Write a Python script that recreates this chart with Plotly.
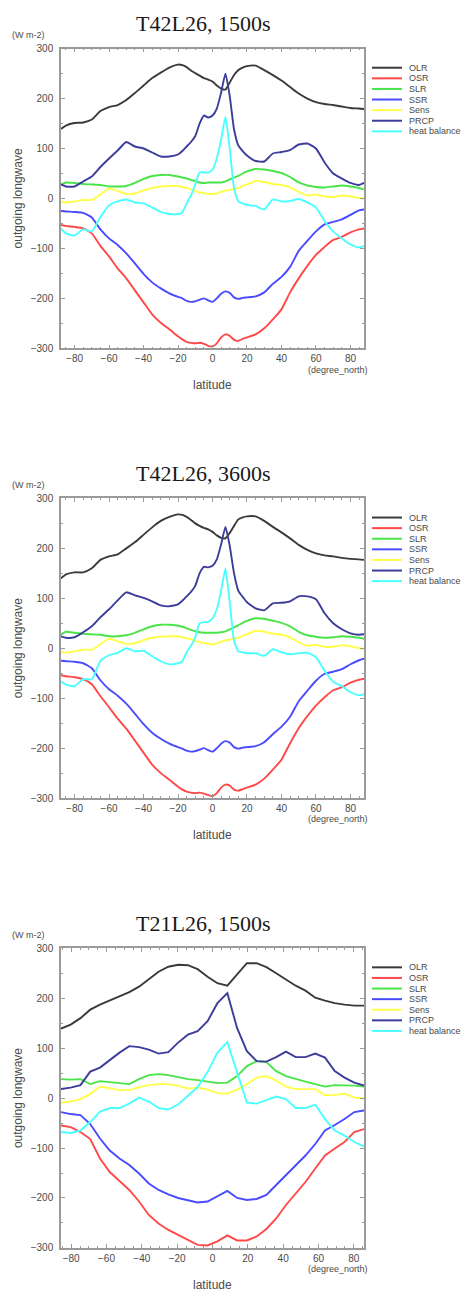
import plotly.graph_objects as go

# ---------------------------------------------------------------- data
SERIES = ["OLR", "OSR", "SLR", "SSR", "Sens", "PRCP", "heat balance"]
TITLES = ["T42L26, 1500s", "T42L26, 3600s", "T21L26, 1500s"]

LAT_T42 = [-87.9, -85, -80, -75, -70, -65, -60, -55, -50, -45, -40, -35, -30, -25,
           -20, -17.5, -15, -12.5, -10, -7.5, -5, -2.5, 0, 2.5, 5, 7.5, 10, 12.5,
           15, 17.5, 20, 25, 30, 35, 40, 45, 50, 55, 60, 65, 70, 75, 80, 85, 87.9]

LAT_T21 = [-85.76, -80.27, -74.74, -69.21, -63.69, -58.16, -52.63, -47.10,
           -41.58, -36.05, -30.52, -24.99, -19.47, -13.94, -8.41, -2.79,
           2.79, 8.41, 13.94, 19.47, 24.99, 30.52, 36.05, 41.58,
           47.10, 52.63, 58.16, 63.69, 69.21, 74.74, 80.27, 85.76]

# T42L26, dt = 1500 s
OLR_A = [139, 146, 151, 152, 158, 175, 183, 187, 197, 211, 226, 241, 252, 262,
         268, 267, 263, 256, 251, 246, 241, 238, 234, 226, 220, 218, 232, 247,
         257, 262, 265, 266, 257, 247, 236, 223, 210, 200, 193, 189, 187, 184, 181, 180, 179]
OSR_A = [-53, -55, -57, -60, -70, -95, -116, -140, -160, -184, -208, -232, -249, -262,
         -276, -282, -287, -289, -290, -289, -291, -295, -296, -290, -278, -272, -275, -283,
         -285, -281, -278, -272, -260, -242, -222, -188, -160, -135, -113, -97, -83, -77, -68, -62, -60]
SLR_A = [28, 32, 31, 29, 28, 27, 24, 24, 25, 31, 39, 45, 47, 47,
         44, 42, 40, 37, 35, 32, 31, 32, 32, 32, 32, 34, 38, 42,
         45, 50, 54, 59, 58, 55, 51, 43, 32, 26, 23, 22, 24, 26, 24, 21, 18]
SSR_A = [-25, -26, -27, -29, -38, -62, -80, -93, -110, -130, -151, -168, -180, -190,
         -197, -200, -205, -207, -206, -203, -200, -204, -207, -200, -191, -186, -189, -198,
         -201, -199, -198, -196, -188, -171, -157, -137, -105, -85, -66, -52, -47, -42, -33, -24, -22]
SENS_A = [-6, -8, -6, -3, -3, 8, 20, 15, 9, 10, 16, 21, 24, 25,
          25, 23, 21, 18, 15, 12, 11, 9, 9, 10, 13, 16, 17, 19,
          21, 25, 28, 35, 33, 29, 27, 22, 13, 6, 8, 4, 3, 6, 4, 1, 0]
PRCP_A = [28, 24, 24, 34, 44, 63, 80, 96, 113, 104, 100, 92, 84, 84,
          88, 95, 104, 113, 125, 150, 166, 162, 166, 180, 212, 250, 205, 138,
          106, 95, 86, 75, 74, 90, 93, 97, 108, 110, 100, 72, 50, 40, 31, 27, 31]
HEAT_A = [-60, -70, -74, -62, -66, -37, -14, -6, -2, -8, -10, -18, -27, -31,
          -31, -28, -10, 6, 28, 52, 52, 52, 58, 80, 118, 163, 100, 20,
          -6, -10, -13, -15, -22, -2, -6, -5, -1, -8, -18, -45, -66, -80, -92, -98, -95]

# T42L26, dt = 3600 s
OLR_B = [140, 148, 152, 152, 160, 177, 184, 188, 200, 212, 227, 242, 255, 263,
         268, 267, 263, 257, 250, 245, 241, 238, 233, 226, 221, 220, 231, 245,
         258, 262, 264, 264, 255, 243, 232, 220, 207, 197, 190, 186, 184, 181, 179, 178, 177]
OSR_B = [-54, -56, -58, -62, -72, -96, -118, -141, -161, -185, -209, -233, -250, -263,
         -277, -283, -287, -289, -290, -289, -291, -294, -296, -290, -279, -273, -275, -283,
         -285, -282, -279, -273, -261, -243, -223, -190, -160, -136, -115, -98, -84, -78, -69, -63, -61]
SLR_B = [27, 33, 31, 29, 28, 27, 24, 24, 26, 31, 38, 44, 47, 47,
         45, 43, 40, 37, 34, 32, 31, 31, 31, 31, 32, 34, 38, 42,
         46, 51, 55, 60, 59, 55, 51, 44, 33, 26, 23, 21, 22, 24, 23, 21, 19]
SSR_B = [-25, -26, -27, -30, -40, -64, -82, -95, -111, -131, -152, -169, -181, -191,
         -198, -201, -205, -207, -206, -203, -200, -204, -207, -200, -191, -186, -189, -198,
         -201, -199, -198, -196, -188, -172, -157, -137, -106, -85, -65, -51, -47, -42, -32, -24, -21]
SENS_B = [-8, -9, -6, -3, -3, 8, 19, 14, 9, 10, 16, 21, 23, 24,
          24, 22, 20, 18, 15, 12, 11, 9, 8, 10, 13, 16, 17, 19,
          21, 25, 28, 35, 33, 29, 27, 22, 12, 5, 7, 3, 3, 6, 4, 0, -1]
PRCP_B = [24, 21, 22, 32, 44, 62, 78, 96, 112, 106, 101, 94, 86, 84,
          88, 95, 104, 113, 125, 150, 163, 162, 165, 178, 208, 243, 205, 150,
          115, 103, 92, 80, 76, 90, 91, 94, 104, 104, 98, 70, 50, 38, 30, 27, 28]
HEAT_B = [-66, -73, -76, -62, -62, -25, -14, -9, 0, -6, -5, -16, -26, -32,
          -30, -26, -8, 5, 22, 50, 52, 53, 60, 78, 115, 160, 92, 15,
          -6, -8, -10, -10, -15, -2, -8, -12, -10, -9, -18, -45, -67, -76, -88, -94, -92]

# T21L26, dt = 1500 s
OLR_C = [139, 147, 160, 177, 187, 195, 203, 212, 223, 238, 253, 263, 267, 266, 258, 243,
         230, 225, 248, 270, 270, 262, 250, 237, 225, 215, 201, 195, 190, 187, 185, 185]
OSR_C = [-55, -58, -68, -82, -121, -148, -166, -184, -207, -234, -251, -264, -274, -284, -294, -295,
         -287, -275, -285, -285, -277, -262, -241, -214, -191, -168, -141, -115, -101, -88, -68, -62]
SLR_C = [38, 37, 38, 28, 34, 32, 30, 28, 38, 46, 48, 46, 42, 38, 36, 33,
         30, 31, 44, 64, 74, 72, 54, 44, 38, 33, 28, 23, 26, 26, 25, 23]
SSR_C = [-28, -32, -34, -52, -81, -105, -121, -134, -151, -171, -184, -193, -200, -204, -209, -207,
         -196, -186, -200, -204, -202, -194, -174, -154, -134, -115, -92, -65, -54, -42, -28, -25]
SENS_C = [-9, -7, -2, 8, 23, 20, 16, 16, 22, 26, 28, 28, 25, 19, 21, 17,
          10, 9, 17, 28, 41, 44, 35, 23, 18, 18, 18, 6, 6, 9, 1, -1]
PRCP_C = [18, 21, 26, 53, 61, 76, 91, 104, 102, 97, 89, 92, 111, 127, 134, 154,
          190, 210, 140, 94, 74, 73, 82, 93, 82, 82, 89, 81, 54, 41, 31, 25]
HEAT_C = [-68, -70, -65, -48, -27, -20, -20, -11, 1, -7, -20, -23, -13, 5, 22, 52,
          91, 112, 50, -9, -11, -4, 3, -2, -20, -20, -13, -42, -65, -75, -88, -97]

X_RANGES = [[-87.86, 87.86], [-87.86, 87.86], [-85.76, 85.76]]
PANELS = [
    (LAT_T42, [OLR_A, OSR_A, SLR_A, SSR_A, SENS_A, PRCP_A, HEAT_A], "spline"),
    (LAT_T42, [OLR_B, OSR_B, SLR_B, SSR_B, SENS_B, PRCP_B, HEAT_B], "spline"),
    (LAT_T21, [OLR_C, OSR_C, SLR_C, SSR_C, SENS_C, PRCP_C, HEAT_C], "linear"),
]

# ---------------------------------------------------------------- style
COLORS = ["#3a3a3a", "#ff4848", "#48e448", "#4a4aff", "#ffff4a", "#3c3c9a", "#4cffff"]
W, H = 465, 1300
PLOT_L, PLOT_R = 61, 364
PLOT_TOPS = [43, 497, 951]
PLOT_H = 302.5
FRAME = "#9a9a9a"
TEXT = "#4a4a4a"
SANS = "Liberation Sans"


def fy(pix):
    return 1 - pix / H


def fx(pix):
    return pix / W


fig = go.Figure()
layout = dict(width=W, height=H, margin=dict(l=0, r=0, t=0, b=0),
              paper_bgcolor="white", plot_bgcolor="white", showlegend=False)
shapes, annotations = [], []

for i, (lat, values, shape) in enumerate(PANELS):
    n = "" if i == 0 else str(i + 1)
    top = PLOT_TOPS[i]
    for name, color, vals in zip(SERIES, COLORS, values):
        line = dict(color=color, width=1.9, shape=shape)
        if shape == "spline":
            line["smoothing"] = 0.5
        fig.add_trace(go.Scatter(x=lat, y=vals, mode="lines", name=name, line=line,
                                 xaxis="x" + n, yaxis="y" + n))

    layout["xaxis" + n] = dict(
        domain=[fx(PLOT_L), fx(PLOT_R)], range=X_RANGES[i], anchor="y" + n,
        tick0=0, dtick=20, ticks="inside", ticklen=4, tickwidth=1, tickcolor=FRAME,
        minor=dict(tick0=0, dtick=5, ticks="inside", ticklen=2, tickcolor=FRAME),
        showline=True, linecolor=FRAME, linewidth=1.5, mirror="allticks",
        showgrid=False, zeroline=False,
        tickfont=dict(family=SANS, size=10, color=TEXT))
    layout["yaxis" + n] = dict(
        domain=[fy(top + PLOT_H), fy(top)], range=[-300, 300], anchor="x" + n,
        tick0=0, dtick=100, ticks="inside", ticklen=4, tickwidth=1, tickcolor=FRAME,
        minor=dict(tick0=0, dtick=50, ticks="inside", ticklen=2, tickcolor=FRAME),
        showline=True, linecolor=FRAME, linewidth=1.5, mirror="allticks",
        showgrid=False, zeroline=False, ticklabelstandoff=4,
        tickfont=dict(family=SANS, size=10, color=TEXT))

    # panel title and axis captions
    annotations.append(dict(text=TITLES[i], x=fx(203), y=fy(top - 25), xref="paper", yref="paper",
                            showarrow=False, xanchor="center", yanchor="middle",
                            font=dict(family="Liberation Serif", size=22, color="#1a1a1a")))
    annotations.append(dict(text="(W m-2)", x=fx(10), y=fy(top - 13.5), xref="paper", yref="paper",
                            showarrow=False, xanchor="left", yanchor="middle",
                            font=dict(family=SANS, size=9, color=TEXT)))
    annotations.append(dict(text="outgoing longwave", x=fx(18), y=fy(top + PLOT_H / 2),
                            xref="paper", yref="paper", showarrow=False, textangle=-90,
                            xanchor="center", yanchor="middle",
                            font=dict(family=SANS, size=12, color=TEXT)))
    annotations.append(dict(text="(degree_north)", x=fx(338), y=fy(top + 324), xref="paper",
                            yref="paper", showarrow=False, xanchor="center", yanchor="middle",
                            font=dict(family=SANS, size=9, color=TEXT)))
    annotations.append(dict(text="latitude", x=fx(212), y=fy(top + 340), xref="paper",
                            yref="paper", showarrow=False, xanchor="center", yanchor="middle",
                            font=dict(family=SANS, size=12, color=TEXT)))

    # series key to the right of each panel
    for k, (name, color) in enumerate(zip(SERIES, COLORS)):
        ypix = top + 19.3 + k * 10.7
        shapes.append(dict(type="line", xref="paper", yref="paper",
                           x0=fx(372), x1=fx(402), y0=fy(ypix), y1=fy(ypix),
                           line=dict(color=color, width=2)))
        annotations.append(dict(text=name, x=fx(407), y=fy(ypix), xref="paper", yref="paper",
                                showarrow=False, xanchor="left", yanchor="middle",
                                font=dict(family=SANS, size=9, color=TEXT)))

layout["shapes"] = shapes
layout["annotations"] = annotations
fig.update_layout(**layout)
fig.write_html("out.html")
